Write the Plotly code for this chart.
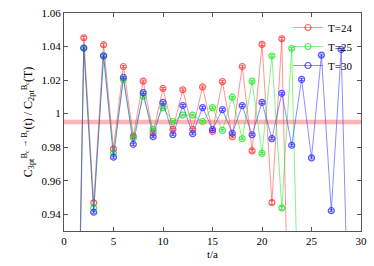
import plotly.graph_objects as go

t_24 = list(range(1, 24))
c_24 = [0.720, 1.0452, 0.9468, 1.0411, 0.9790, 1.0281, 0.9866, 1.0194, 0.9885, 1.0150,
        0.9906, 1.0142, 0.9906, 1.0159, 0.9893, 1.0191, 0.9862, 1.0281, 0.9778, 1.0413,
        0.9470, 1.0446, 0.784]
e_24 = [0.002, 0.0008, 0.0012, 0.0008, 0.0007, 0.0006, 0.0006, 0.0006, 0.0006, 0.0006,
        0.0006, 0.0006, 0.0006, 0.0006, 0.0006, 0.0006, 0.0006, 0.0007, 0.0008, 0.0008,
        0.0012, 0.0008, 0.002]

t_25 = list(range(1, 25))
c_25 = [0.715, 1.0391, 0.9437, 1.0343, 0.9765, 1.0204, 0.9855, 1.0104, 0.9906, 1.0036,
        0.9953, 0.9991, 0.9991, 0.9953, 1.0036, 0.9900, 1.0098, 0.9850, 1.0194, 0.9763,
        1.0345, 0.9437, 1.0388, 0.797]
e_25 = [0.002, 0.0007, 0.001, 0.0007, 0.0006, 0.0005, 0.0005, 0.0005, 0.0005, 0.0005,
        0.0005, 0.0005, 0.0005, 0.0005, 0.0005, 0.0005, 0.0005, 0.0005, 0.0005, 0.0006,
        0.0007, 0.001, 0.0007, 0.002]

t_30 = list(range(1, 30))
c_30 = [0.710, 1.0391, 0.9412, 1.0345, 0.9740, 1.0217, 0.9817, 1.0125, 0.9862, 1.0067,
        0.9874, 1.0048, 0.9880, 1.0036, 0.9905, 1.0024, 0.9883, 1.0048, 0.9874, 1.0067,
        0.9851, 1.0121, 0.9811, 1.0204, 0.9736, 1.0349, 0.9421, 1.0382, 0.808]
e_30 = [0.002] + [0.0006] * 27 + [0.002]

band_x = [0, 30]
band_center = 0.995
band_half = 0.0013

x_ticks = [0, 5, 10, 15, 20, 25, 30]
y_ticks = [0.94, 0.96, 0.98, 1.00, 1.02, 1.04, 1.06]
y_tick_text = ["0.94", "0.96", "0.98", "1", "1.02", "1.04", "1.06"]

series = [
    ("T=24", t_24, c_24, e_24, "rgba(255,40,40,0.75)", "rgba(255,60,60,0.55)"),
    ("T=25", t_25, c_25, e_25, "rgba(30,230,30,0.8)", "rgba(40,230,40,0.55)"),
    ("T=30", t_30, c_30, e_30, "rgba(40,40,255,0.8)", "rgba(50,50,255,0.55)"),
]

fig = go.Figure()

# band
fig.add_trace(go.Scatter(
    x=band_x + band_x[::-1],
    y=[band_center - band_half] * 2 + [band_center + band_half] * 2,
    fill="toself", fillcolor="rgba(255,90,90,0.45)", line=dict(width=0),
    mode="lines", showlegend=False, hoverinfo="skip"))

for name, t, c, e, mcol, lcol in series:
    fig.add_trace(go.Scatter(
        x=t, y=c, name=name, mode="lines+markers",
        line=dict(color=lcol, width=1),
        marker=dict(symbol="circle-open", size=6, color=mcol, line=dict(width=1.2)),
        error_y=dict(type="data", array=e, color=mcol, thickness=1, width=2),
    ))

font = "Liberation Serif"
fig.update_layout(
    width=374, height=266,
    margin=dict(l=64, r=10, t=7, b=35),
    paper_bgcolor="white", plot_bgcolor="white",
    font=dict(family=font, size=11, color="black"),
    showlegend=True,
    legend=dict(x=0.99, y=1.0, xanchor="right", yanchor="top",
                bgcolor="rgba(0,0,0,0)", font=dict(family=font, size=11),
                tracegroupgap=0, itemwidth=30),
    xaxis=dict(range=[0, 30], tickvals=x_ticks, ticks="inside", ticklen=4,
               showgrid=False, zeroline=False, showline=True, linecolor="#555",
               linewidth=1, mirror="ticks", tickcolor="#555",
               title=dict(text="t/a", standoff=4, font=dict(family=font, size=11))),
    yaxis=dict(range=[0.93, 1.06], tickvals=y_ticks, ticktext=y_tick_text,
               ticks="inside", ticklen=4,
               showgrid=False, zeroline=False, showline=True, linecolor="#555",
               linewidth=1, mirror="ticks", tickcolor="#555",
               title=dict(text="C<sub>3pt</sub><sup>B<sub>c</sub> \u2192 B<sub>c</sub></sup>(t) / C<sub>2pt</sub><sup>B<sub>c</sub></sup>(T)",
                          standoff=6, font=dict(family=font, size=12))),
)

fig.write_html("out.html", config={"displayModeBar": False},
               post_script="document.body.style.margin='0';")
